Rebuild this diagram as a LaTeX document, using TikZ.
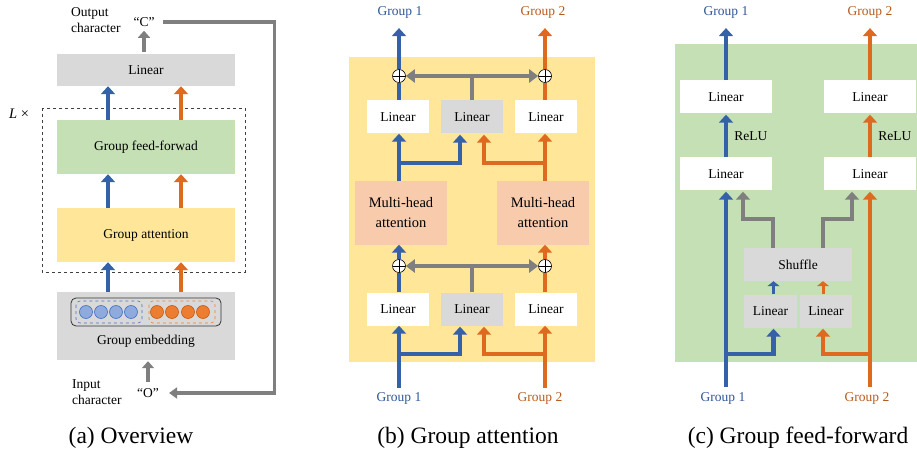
\documentclass[tikz,border=0pt]{standalone}
\usepackage{fontspec}
\setmainfont{Liberation Serif}
\usetikzlibrary{arrows.meta,calc}

\definecolor{gblue}{HTML}{3461A8}
\definecolor{gorange}{HTML}{DD6A1F}
\definecolor{tblue}{HTML}{2F5597}
\definecolor{torange}{HTML}{B85A1A}
\definecolor{ggray}{HTML}{7F7F7F}
\definecolor{boxgray}{HTML}{D9D9D9}
\definecolor{attyellow}{HTML}{FFE699}
\definecolor{ffgreen}{HTML}{C5E0B4}
\definecolor{mhapeach}{HTML}{F8CBAD}
\definecolor{dotblue}{HTML}{8FAADC}
\definecolor{dotblueline}{HTML}{4472C4}
\definecolor{dotorange}{HTML}{ED7D31}
\definecolor{dotorangeline}{HTML}{C55A11}

\tikzset{
  lbl/.style={inner sep=0pt, font=\fontsize{13.5}{16}\selectfont},
  captiontext/.style={inner sep=0pt, font=\fontsize{23.5}{28}\selectfont},
  plainbox/.style={inner sep=0pt, font=\fontsize{13.5}{16}\selectfont, draw=none},
  wbox/.style={plainbox, fill=white, minimum width=62pt, minimum height=33pt},
  gbox/.style={plainbox, fill=boxgray, minimum width=62pt, minimum height=33pt},
  thick arrow/.style={line width=4.5pt, -{Triangle[width=14pt,length=8pt]}},
  barr/.style={thick arrow, draw=gblue},
  oarr/.style={thick arrow, draw=gorange},
  garr/.style={thick arrow, draw=ggray},
  bline/.style={line width=4.5pt, draw=gblue},
  oline/.style={line width=4.5pt, draw=gorange},
  gline/.style={line width=4.5pt, draw=ggray},
  small arrow/.style={line width=3pt, -{Triangle[width=12pt,length=5pt]}},
  opl/.style={circle, draw=black, fill=white, line width=0.6pt, minimum size=13pt, inner sep=0pt,
    path picture={\draw[line width=0.6pt] (path picture bounding box.north) -- (path picture bounding box.south)
      (path picture bounding box.west) -- (path picture bounding box.east);}},
}

\begin{document}
\begin{tikzpicture}[x=1pt, y=-1pt]
\useasboundingbox (0,0) rectangle (917,454);

% ---------------- (a) Overview ----------------
\node[gbox, minimum width=178pt, minimum height=32pt] (aLin) at (146,70) {Linear};
\node[plainbox, fill=ffgreen, minimum width=178pt, minimum height=54pt] (aGFF) at (146,147) {Group feed-forwad};
\node[plainbox, fill=attyellow, minimum width=178pt, minimum height=54pt] (aGA) at (146,235) {Group attention};
\node[gbox, minimum width=178pt, minimum height=68pt] (aGE) at (146,326) {};
\node[lbl] (aGEtxt) at (146,341) {Group embedding};

% repeated block
\draw[dashed, line width=0.7pt, draw=black!75] (42,108) rectangle (245,272);
\node[lbl, anchor=west, font=\fontsize{14.5}{16}\selectfont] (aL) at (9,114) {\textit{L} ×};

% embedding vector
\draw[line width=0.8pt, rounded corners=5pt, draw=black!80] (71,298) rectangle (221,326);
\draw[line width=0.6pt, dashed, rounded corners=4pt, draw=dotblueline] (76,301) rectangle (142,323);
\draw[line width=0.6pt, dashed, rounded corners=4pt, draw=dotorange] (149,301) rectangle (215,323);
\foreach \x in {86,101,116,131}
  \draw[fill=dotblue, draw=dotblueline, line width=0.6pt] (\x,312) circle (6.5);
\foreach \x in {157,172,188,203}
  \draw[fill=dotorange, draw=dotorangeline, line width=0.6pt] (\x,312) circle (6.5);

% group streams between blocks
\draw[barr] ([xshift=-38pt]aGE.north) -- ([xshift=-38pt]aGA.south);
\draw[oarr] ([xshift=35pt]aGE.north) -- ([xshift=35pt]aGA.south);
\draw[barr] ([xshift=-38pt]aGA.north) -- ([xshift=-38pt]aGFF.south);
\draw[oarr] ([xshift=35pt]aGA.north) -- ([xshift=35pt]aGFF.south);
\draw[barr] ([xshift=-38pt]aGFF.north) -- ([xshift=-38pt]aLin.south);
\draw[oarr] ([xshift=35pt]aGFF.north) -- ([xshift=35pt]aLin.south);

% input / output characters
\node[lbl] (cOut) at (144,22) {“C”};
\node[lbl] (cIn) at (148,393) {“O”};
\node[lbl, anchor=west, align=left] (outTxt) at (71,20) {Output\\character};
\node[lbl, anchor=west, align=left] (inTxt) at (72,392) {Input\\character};
\draw[garr, line width=4pt, -{Triangle[width=12pt,length=7pt]}] ([yshift=2pt]aLin.north -| cOut) -- ([yshift=-4pt]cOut.south);
\draw[garr, line width=4pt, -{Triangle[width=12pt,length=7pt]}] ([yshift=6pt]cIn.north) -- ([yshift=-1pt]aGE.south -| cIn);
\draw[line width=3.3pt, draw=ggray, -{Triangle[width=11pt,length=8pt]}]
  ([xshift=8pt]cOut.east) -- ++(112,0) |- ([xshift=10pt]cIn.east);

\node[captiontext] (capA) at (131,438) {(a) Overview};

% ---------------- (b) Group attention ----------------
\fill[attyellow] (349,57) rectangle (595,362);

\node[wbox] (tL1) at (398,117) {Linear};
\node[gbox] (tL2) at (472,117) {Linear};
\node[wbox] (tL3) at (546,117) {Linear};
\node[wbox] (bL1) at (398,309) {Linear};
\node[gbox] (bL2) at (472,309) {Linear};
\node[wbox] (bL3) at (546,309) {Linear};
\node[plainbox, fill=mhapeach, minimum width=92pt, minimum height=63pt, align=center,
      font=\fontsize{14.5}{20}\selectfont] (m1) at (401,213) {Multi-head\\attention};
\node[plainbox, fill=mhapeach, minimum width=92pt, minimum height=63pt, align=center,
      font=\fontsize{14.5}{20}\selectfont] (m2) at (543,213) {Multi-head\\attention};

\node[opl] (o1t) at (399,76) {};
\node[opl] (o2t) at (545,76) {};
\node[opl] (o1b) at (399,266) {};
\node[opl] (o2b) at (545,266) {};

\node[lbl, text=tblue] (bT1) at (400,12) {Group 1};
\node[lbl, text=torange] (bT2) at (543,12) {Group 2};
\node[lbl, text=tblue] (bB1) at (399,398) {Group 1};
\node[lbl, text=torange] (bB2) at (540,398) {Group 2};

% inputs into the lower Linear layer
\draw[barr] ([yshift=4pt]bB1.north -| o1b) -- (bL1.south -| o1b);
\draw[barr] (o1b |- 0,354) -| ([xshift=-12pt,yshift=-1pt]bL2.south);
\draw[oarr] ([yshift=4pt]bB2.north -| o2b) -- (bL3.south -| o2b);
\draw[oarr] (o2b |- 0,354) -| ([xshift=12pt,yshift=-1pt]bL2.south);

% lower residual sums
\draw[bline] (bL1.north -| o1b) -- (o1b.south);
\draw[oline] (bL3.north -| o2b) -- (o2b.south);
\draw[gline] (bL2.north) -- (bL2.north |- o1b) coordinate (bj);
\draw[garr, -{Triangle[width=13pt,length=9pt]}] (bj) -- (o1b.east);
\draw[garr, -{Triangle[width=13pt,length=9pt]}] (bj) -- (o2b.west);
\draw[barr] (o1b.north) -- (m1.south -| o1b);
\draw[oarr] (o2b.north) -- (m2.south -| o2b);

% attention outputs into the upper Linear layer
\draw[barr] (m1.north -| o1t) -- (tL1.south -| o1t);
\draw[barr] (o1t |- 0,163) -| ([xshift=-12pt,yshift=-1pt]tL2.south);
\draw[oarr] (m2.north -| o2t) -- (tL3.south -| o2t);
\draw[oarr] (o2t |- 0,163) -| ([xshift=12pt,yshift=-1pt]tL2.south);

% upper residual sums
\draw[bline] (tL1.north -| o1t) -- (o1t.south);
\draw[oline] (tL3.north -| o2t) -- (o2t.south);
\draw[gline] (tL2.north) -- (tL2.north |- o1t) coordinate (tj);
\draw[garr, -{Triangle[width=13pt,length=9pt]}] (tj) -- (o1t.east);
\draw[garr, -{Triangle[width=13pt,length=9pt]}] (tj) -- (o2t.west);
\draw[barr] (o1t.north) -- ([yshift=-10pt]bT1.south -| o1t);
\draw[oarr] (o2t.north) -- ([yshift=-10pt]bT2.south -| o2t);

\node[captiontext] (capB) at (468,438) {(b) Group attention};

% ---------------- (c) Group feed-forward ----------------
\fill[ffgreen] (675,44) rectangle (917,362);

\node[wbox, minimum width=92pt] (cU1) at (726,97) {Linear};
\node[wbox, minimum width=92pt] (cL1) at (726,174) {Linear};
\node[wbox, minimum width=92pt] (cU2) at (870,97) {Linear};
\node[wbox, minimum width=92pt] (cL2) at (870,174) {Linear};
\node[gbox, minimum width=108pt, minimum height=33pt] (shuf) at (798,264.5) {Shuffle};
\node[gbox, minimum width=53pt, minimum height=33pt] (sL1) at (770.5,311) {Linear};
\node[gbox, minimum width=52pt, minimum height=33pt] (sL2) at (826,311) {Linear};

\node[lbl, text=tblue] (cT1) at (726,12) {Group 1};
\node[lbl, text=torange] (cT2) at (870,12) {Group 2};
\node[lbl, text=tblue] (cB1) at (723,398) {Group 1};
\node[lbl, text=torange] (cB2) at (867,398) {Group 2};

% main streams
\draw[barr] ([yshift=5pt]cB1.north -| cL1) -- ([yshift=-1pt]cL1.south);
\draw[oarr] ([yshift=5pt]cB2.north -| cL2) -- ([yshift=-1pt]cL2.south);
\draw[barr] (cL1 |- 0,354) -| ([xshift=3pt,yshift=-1pt]sL1.south);
\draw[oarr] (cL2 |- 0,354) -| ([xshift=-3pt,yshift=-1pt]sL2.south);

% into the shuffle
\draw[small arrow, draw=gblue] ([xshift=3pt]sL1.north) -- ([xshift=3pt]sL1.north |- shuf.south);
\draw[small arrow, draw=gorange] ([xshift=-3pt]sL2.north) -- ([xshift=-3pt]sL2.north |- shuf.south);

% shuffled features back to each group
\draw[garr] ([xshift=-25pt]shuf.north) -- ++(0,-29) -| ([xshift=17pt,yshift=-1pt]cL1.south);
\draw[garr] ([xshift=25pt]shuf.north) -- ++(0,-29) -| ([xshift=-18pt,yshift=-1pt]cL2.south);

% ReLU and outputs
\draw[barr] (cL1.north) -- ([yshift=-1pt]cU1.south) node[midway, lbl, anchor=west, xshift=6pt] (r1) {ReLU};
\draw[oarr] (cL2.north) -- ([yshift=-1pt]cU2.south) node[midway, lbl, anchor=west, xshift=6pt] (r2) {ReLU};
\draw[barr] (cU1.north) -- ([yshift=-10pt]cT1.south -| cU1);
\draw[oarr] (cU2.north) -- ([yshift=-10pt]cT2.south -| cU2);

\node[captiontext] (capC) at (798,438) {(c) Group feed-forward};
\end{tikzpicture}
\end{document}
